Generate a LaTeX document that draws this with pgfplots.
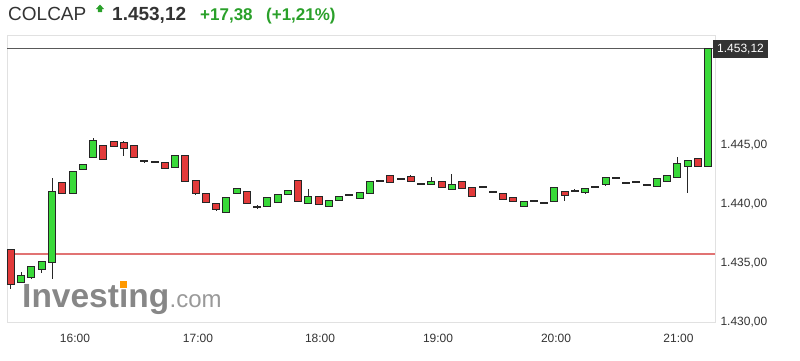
\documentclass[border=0pt]{standalone}
\usepackage{pgfplots}
\pgfplotsset{compat=1.18}
\usepackage{pgfplotstable}
\usepackage{fontspec}
\setmainfont{Liberation Sans}
\definecolor{cgreen}{RGB}{57,217,57}
\definecolor{cred}{RGB}{226,58,58}
\definecolor{tgreen}{RGB}{42,160,42}
\definecolor{txt}{RGB}{51,51,51}
\definecolor{framec}{RGB}{225,225,225}
\definecolor{prevline}{RGB}{225,115,115}
\definecolor{wm}{RGB}{135,135,135}

\pgfplotstableread{
i o h l c
0 1436.08 1436.16 1432.77 1433.20
1 1433.37 1434.21 1433.37 1433.88
2 1433.79 1434.64 1433.62 1434.64
3 1434.47 1435.06 1434.13 1435.06
4 1435.06 1442.18 1433.62 1441.00
5 1441.76 1441.76 1440.91 1440.91
6 1440.91 1442.69 1440.91 1442.69
7 1442.94 1443.28 1442.94 1443.28
8 1443.96 1445.57 1443.96 1445.32
9 1444.89 1444.89 1443.79 1443.79
10 1445.23 1445.23 1444.89 1444.89
11 1445.15 1445.32 1444.05 1444.72
12 1444.89 1444.89 1443.96 1443.96
13 1443.62 1443.75 1443.45 1443.62
14 1443.54 1443.54 1443.54 1443.54
15 1443.45 1443.45 1443.03 1443.03
16 1443.11 1444.05 1443.11 1444.05
17 1444.05 1444.05 1441.93 1441.93
18 1441.93 1441.93 1440.74 1440.91
19 1440.82 1440.82 1440.15 1440.15
20 1439.98 1439.98 1439.38 1439.55
21 1439.30 1440.49 1439.30 1440.49
22 1440.91 1441.25 1440.91 1441.25
23 1441.00 1441.00 1440.06 1440.06
24 1439.72 1439.85 1439.55 1439.72
25 1439.81 1440.49 1439.81 1440.49
26 1440.15 1440.74 1440.15 1440.74
27 1440.82 1441.08 1440.82 1441.08
28 1441.93 1441.93 1440.23 1440.23
29 1440.06 1441.25 1440.06 1440.57
30 1440.57 1440.57 1439.98 1439.98
31 1439.81 1440.23 1439.81 1440.23
32 1440.32 1440.57 1440.32 1440.57
33 1440.74 1440.74 1440.74 1440.74
34 1440.49 1440.91 1440.49 1440.91
35 1440.91 1441.84 1440.91 1441.84
36 1441.93 1441.93 1441.93 1441.93
37 1442.35 1442.35 1441.84 1441.84
38 1442.10 1442.10 1442.10 1442.10
39 1442.27 1442.43 1441.93 1441.93
40 1441.72 1441.72 1441.72 1441.72
41 1441.67 1442.27 1441.67 1441.84
42 1441.84 1441.84 1441.42 1441.42
43 1441.25 1442.52 1441.25 1441.59
44 1441.84 1441.84 1441.33 1441.33
45 1441.33 1441.33 1440.66 1440.66
46 1441.42 1441.42 1441.42 1441.42
47 1441.00 1441.00 1441.00 1441.00
48 1440.82 1440.82 1440.40 1440.40
49 1440.49 1440.49 1440.23 1440.23
50 1439.81 1440.15 1439.81 1440.15
51 1440.23 1440.23 1440.23 1440.23
52 1440.06 1440.06 1440.06 1440.06
53 1440.23 1441.33 1440.23 1441.33
54 1441.00 1441.00 1440.23 1440.74
55 1441.08 1441.25 1441.08 1441.08
56 1441.00 1441.25 1440.82 1441.25
57 1441.42 1441.42 1441.42 1441.42
58 1441.67 1442.18 1441.50 1442.18
59 1442.18 1442.18 1442.18 1442.18
60 1441.76 1441.76 1441.76 1441.76
61 1441.84 1441.84 1441.84 1441.84
62 1441.59 1441.59 1441.59 1441.59
63 1441.50 1442.10 1441.50 1442.10
64 1441.93 1442.35 1441.93 1442.35
65 1442.27 1443.96 1442.27 1443.37
66 1443.20 1443.62 1440.91 1443.62
67 1443.79 1443.79 1443.20 1443.20
68 1443.20 1453.12 1443.20 1453.12
}\candles

\begin{document}
\begin{tikzpicture}
\useasboundingbox (0pt,0pt) rectangle (800pt,360pt);
% header
\node[anchor=base west, inner sep=0pt, text=txt, font=\fontsize{19}{22}\selectfont] at (8pt,340pt) {COLCAP};
\fill[tgreen] (96pt,351pt) -- (100pt,355.5pt) -- (104pt,351pt) -- (102.2pt,351pt) -- (102.2pt,348pt) -- (97.8pt,348pt) -- (97.8pt,351pt) -- cycle;
\node[anchor=base west, inner sep=0pt, text=txt, font=\fontsize{19}{22}\selectfont\bfseries] at (112pt,340pt) {1.453,12};
\node[anchor=base west, inner sep=0pt, text=tgreen, font=\fontsize{17}{20}\selectfont\bfseries] at (200pt,340pt) {+17,38};
\node[anchor=base west, inner sep=0pt, text=tgreen, font=\fontsize{17}{20}\selectfont\bfseries] at (266pt,340pt) {(+1,21\%)};
% watermark
\node[anchor=base west, inner sep=0pt, text=wm, font=\fontsize{33.5}{36}\selectfont\bfseries] (inv) at (22pt,53pt) {Investing};
\node[anchor=base west, inner sep=0pt, text=wm!85, font=\fontsize{24}{28}\selectfont] at (inv.base east) {.com};
\fill[orange!80!yellow] (119.5pt,72pt) rectangle (127pt,79.5pt);
\begin{axis}[at={(7pt,38.3pt)}, anchor=south west, scale only axis,
  width=708pt, height=286.7pt,
  xmin=-0.39, xmax=68.68, ymin=1430, ymax=1454.30,
  axis line style={framec},
  xtick={6.24,18.24,30.15,41.66,53.17,65.12},
  xticklabels={16:00,17:00,18:00,19:00,20:00,21:00},
  ytick={1430,1435,1440,1445},
  yticklabel pos=right,
  major tick length=0pt,
  tick label style={font=\fontsize{12}{14}\selectfont, text=txt},
  xticklabel style={yshift=-9.3pt},
  yticklabel style={xshift=2pt, /pgf/number format/fixed, /pgf/number format/fixed zerofill,
    /pgf/number format/precision=2, /pgf/number format/use comma,
    /pgf/number format/1000 sep={.}, /pgf/number format/assume math mode=true},
  unbounded coords=discard,
  clip=false,
]
\addplot[color=prevline, line width=1.1pt, mark=none, forget plot] coordinates {(-0.39,1435.74) (68.68,1435.74)};
\addplot[color=black!65, line width=1pt, mark=none, forget plot] coordinates {(-0.39,1453.12) (68.68,1453.12)};
% wicks
\addplot[draw=none, mark=none, forget plot,
  error bars/.cd, y dir=both, y explicit, error mark=none,
  error bar style={line width=1pt, draw=black!85, solid}]
  table[x=i, y expr={(\thisrow{h}+\thisrow{l})/2}, y error expr={(\thisrow{h}-\thisrow{l})/2}] {\candles};
% body outlines
\addplot[draw=none, mark=none, forget plot,
  error bars/.cd, y dir=both, y explicit, error mark=none,
  error bar style={line width=8pt, draw=black!85, solid}]
  table[x=i, y expr={(\thisrow{o}+\thisrow{c})/2}, y error expr={abs(\thisrow{c}-\thisrow{o})/2+0.085}] {\candles};
% green bodies
\addplot[draw=none, mark=none, forget plot,
  error bars/.cd, y dir=both, y explicit, error mark=none,
  error bar style={line width=6pt, draw=cgreen, solid}]
  table[x=i, y expr={\thisrow{c}>\thisrow{o} ? (\thisrow{o}+\thisrow{c})/2 : nan}, y error expr={abs(\thisrow{c}-\thisrow{o})/2}] {\candles};
% red bodies
\addplot[draw=none, mark=none, forget plot,
  error bars/.cd, y dir=both, y explicit, error mark=none,
  error bar style={line width=6pt, draw=cred, solid}]
  table[x=i, y expr={\thisrow{c}<\thisrow{o} ? (\thisrow{o}+\thisrow{c})/2 : nan}, y error expr={abs(\thisrow{c}-\thisrow{o})/2}] {\candles};
\end{axis}
% price tag
\fill[txt] (713pt,302pt) rectangle (768pt,320pt);
\node[text=white, inner sep=0pt, font=\fontsize{12}{14}\selectfont] at (740.5pt,311pt) {1.453,12};
\end{tikzpicture}
\end{document}
